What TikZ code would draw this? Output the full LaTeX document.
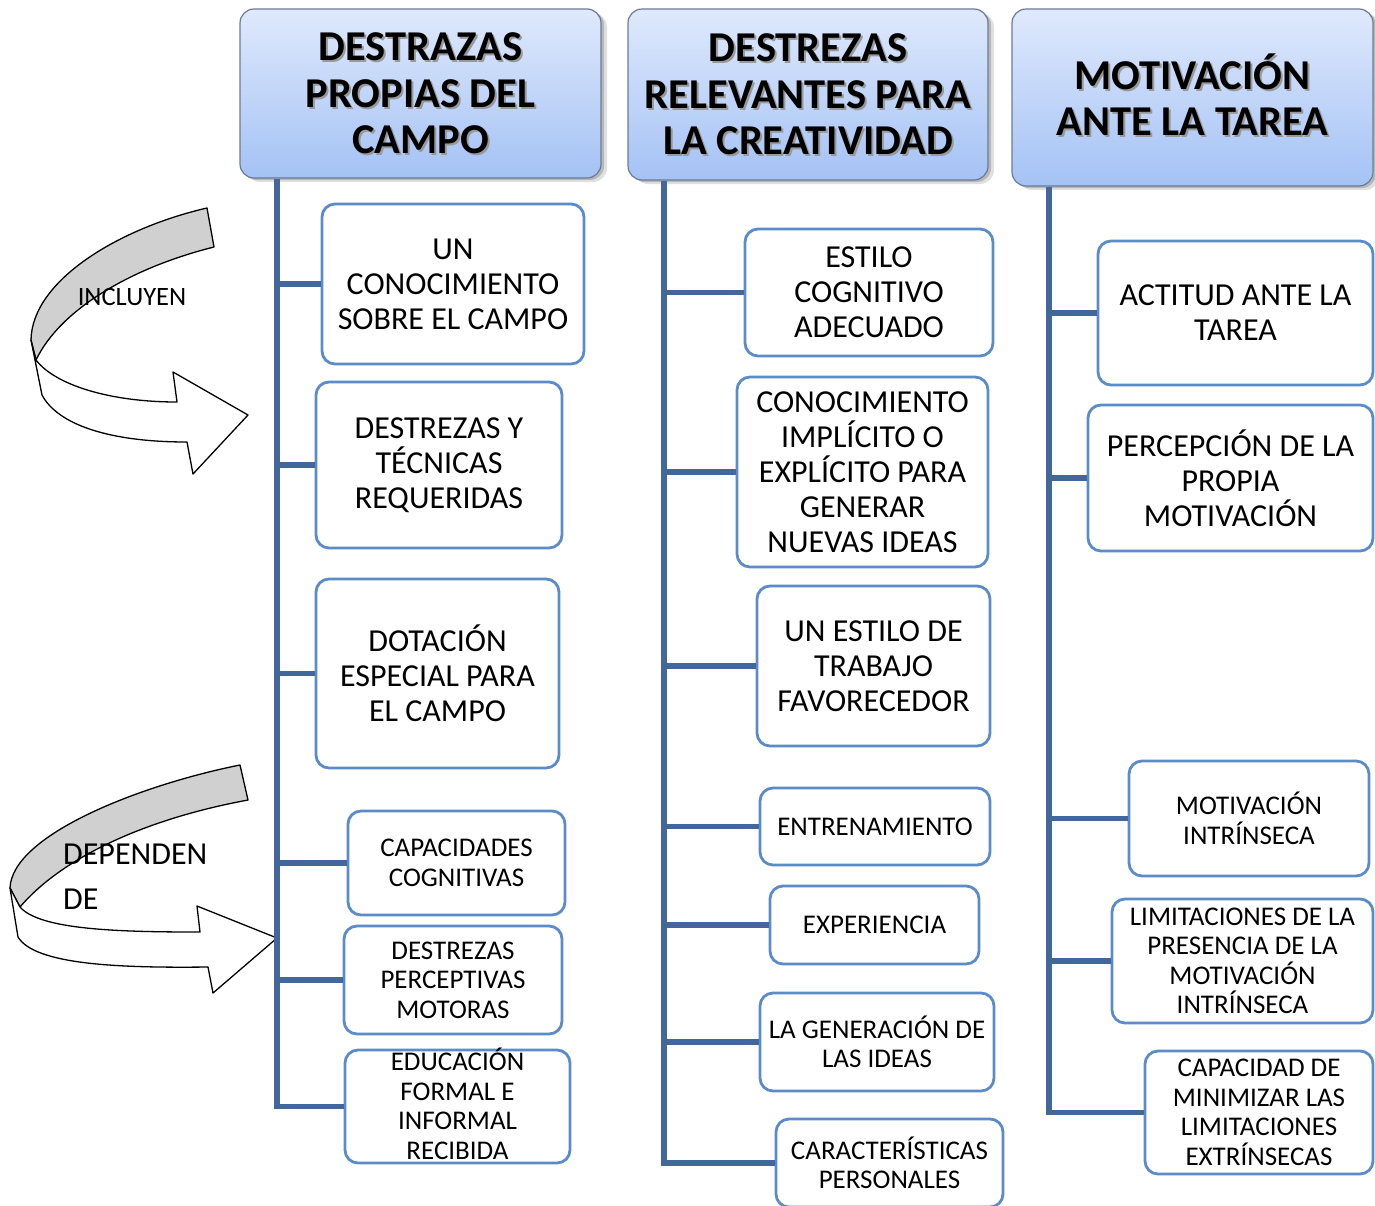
\documentclass[tikz,border=0pt]{standalone}
\usepackage{fontspec}
\setmainfont{Carlito}
\usetikzlibrary{shadows}

\definecolor{headtop}{HTML}{DFE9FC}
\definecolor{headbot}{HTML}{A4C2F5}
\definecolor{headline}{HTML}{6C7B94}
\definecolor{boxline}{HTML}{5B8BC9}
\definecolor{trunkc}{HTML}{41679B}
\definecolor{ribbon}{HTML}{D0D0D0}

\newcommand{\bigtxt}{\fontsize{32}{35}\selectfont}
\newcommand{\smalltxt}{\fontsize{27}{29.5}\selectfont}
\newcommand{\headtxt}{\fontsize{42.5}{46.5}\selectfont\bfseries}

\tikzset{
  head/.style={draw=headline, line width=1.2pt, rounded corners=14pt,
    top color=headtop, bottom color=headbot, inner sep=0pt,
    drop shadow={shadow xshift=3pt, shadow yshift=-2pt, opacity=0.18, fill=black},
    drop shadow={shadow xshift=6pt, shadow yshift=-4pt, opacity=0.12, fill=black}},
  headlabel/.style={align=center, inner sep=0pt, font=\headtxt},
  item/.style={draw=boxline, line width=2.8pt, rounded corners=13pt, fill=white,
    align=center, inner sep=0pt},
  bigitem/.style={item, font=\bigtxt},
  smallitem/.style={item, font=\smalltxt},
  trunk/.style={draw=trunkc, line width=5.5pt},
  ribbonback/.style={draw=black, line width=1.3pt, fill=ribbon, line join=round},
  ribbonfront/.style={draw=black, line width=1.3pt, fill=white, line join=round},
}

\begin{document}
\begin{tikzpicture}[x=1pt, y=-1pt]
\useasboundingbox (0,0) rectangle (1375,1205);
\clip (0,0) rectangle (1375,1205);

% ---- curved arrow "INCLUYEN"
\draw[ribbonback] (207,208) .. controls (120,228) and (32,280) .. (31,340)
  -- (36,360) .. controls (60,310) and (130,268) .. (214,247) -- cycle;
\draw[ribbonfront] (31,340) -- (42,395) .. controls (58,425) and (110,442) .. (187,442)
  -- (193,474) -- (248,415) -- (173,372) -- (177,402)
  .. controls (110,402) and (55,385) .. (36,360) -- cycle;
\node[font=\fontsize{26.5}{30}\selectfont, inner sep=0pt] (incl) at (132,297) {INCLUYEN};

% ---- curved arrow "DEPENDEN DE"
\draw[ribbonback] (240,765) .. controls (140,785) and (12,835) .. (10,888)
  -- (20,907) .. controls (60,860) and (140,820) .. (248,800) -- cycle;
\draw[ribbonfront] (10,888) -- (18,937) .. controls (35,965) and (120,968) .. (208,967)
  -- (213,993) -- (277,938) -- (197,906) -- (200,932)
  .. controls (120,932) and (40,930) .. (20,907) -- cycle;
\node[font=\fontsize{32}{45}\selectfont, align=left, inner sep=0pt, anchor=north west]
  (dep) at (63,844) {DEPENDEN\\DE};

% ---- column headers
\node[head, minimum width=361pt, minimum height=169pt] (h1) at (420.5,93.5) {};
\node[head, minimum width=360pt, minimum height=171pt] (h2) at (808,94.5) {};
\node[head, minimum width=361pt, minimum height=177pt] (h3) at (1192.5,97.5) {};

\foreach \h/\t/\dy in {h1/{DESTRAZAS\\PROPIAS DEL\\CAMPO}/0,
                   h2/{DESTREZAS\\RELEVANTES PARA\\LA CREATIVIDAD}/0,
                   h3/{MOTIVACIÓN\\ANTE LA TAREA}/3} {
  \node[headlabel, text=black!40, xshift=2pt, yshift=-2pt+\dy pt] at (\h) {\t};
  \node[headlabel, yshift=\dy pt] at (\h) {\t};
}

% ---- column 1 items
\node[bigitem, minimum width=262pt, minimum height=160pt] (a1) at (453,284)
  {UN\\CONOCIMIENTO\\SOBRE EL CAMPO};
\node[bigitem, minimum width=246pt, minimum height=166pt] (a2) at (439,465)
  {DESTREZAS Y\\TÉCNICAS\\REQUERIDAS};
\node[bigitem, minimum width=243pt, minimum height=189pt] (a3) at (437.5,673.5)
  {DOTACIÓN\\ESPECIAL PARA\\EL CAMPO};
\node[smallitem, minimum width=217pt, minimum height=104pt] (a4) at (456.5,863)
  {CAPACIDADES\\COGNITIVAS};
\node[smallitem, minimum width=218pt, minimum height=108pt] (a5) at (453,980)
  {DESTREZAS\\PERCEPTIVAS\\MOTORAS};
\node[smallitem, minimum width=225pt, minimum height=113pt] (a6) at (457.5,1106.5) {};
\node[font=\smalltxt, align=center, inner sep=0pt] (a6t) at (457.5,1104)
  {EDUCACIÓN\\FORMAL E\\INFORMAL\\RECIBIDA};

% ---- column 2 items
\node[bigitem, minimum width=248pt, minimum height=127pt] (b1) at (869,292.5)
  {ESTILO\\COGNITIVO\\ADECUADO};
\node[bigitem, minimum width=251pt, minimum height=190pt] (b2) at (862.5,472)
  {CONOCIMIENTO\\IMPLÍCITO O\\EXPLÍCITO PARA\\GENERAR\\NUEVAS IDEAS};
\node[bigitem, minimum width=233pt, minimum height=160pt] (b3) at (873.5,666)
  {UN ESTILO DE\\TRABAJO\\FAVORECEDOR};
\node[smallitem, minimum width=230pt, minimum height=77pt] (b4) at (875,826.5)
  {ENTRENAMIENTO};
\node[smallitem, minimum width=209pt, minimum height=78pt] (b5) at (874.5,925)
  {EXPERIENCIA};
\node[smallitem, minimum width=234pt, minimum height=98pt] (b6) at (877,1042)
  {LA GENERACIÓN DE\\LAS IDEAS};
\node[smallitem, minimum width=227pt, minimum height=88pt] (b7) at (889.5,1163)
  {CARACTERÍSTICAS\\PERSONALES};

% ---- column 3 items
\node[bigitem, minimum width=275pt, minimum height=144pt] (c1) at (1235.5,313)
  {ACTITUD ANTE LA\\TAREA};
\node[bigitem, minimum width=285pt, minimum height=146pt] (c2) at (1230.5,478)
  {PERCEPCIÓN DE LA\\PROPIA\\MOTIVACIÓN};
\node[smallitem, minimum width=240pt, minimum height=115pt] (c3) at (1249,818.5)
  {MOTIVACIÓN\\INTRÍNSECA};
\node[smallitem, minimum width=261pt, minimum height=124pt] (c4) at (1242.5,961)
  {LIMITACIONES DE LA\\PRESENCIA DE LA\\MOTIVACIÓN\\INTRÍNSECA};
\node[smallitem, minimum width=228pt, minimum height=123pt] (c5) at (1259,1112.5)
  {CAPACIDAD DE\\MINIMIZAR LAS\\LIMITACIONES\\EXTRÍNSECAS};

% ---- trunks and branches
\coordinate (t1) at (277,0);
\coordinate (t2) at (664,0);
\coordinate (t3) at (1049,0);

\draw[trunk] (h1.south -| t1) |- (a6.west);
\foreach \n in {a1,a2,a3,a4,a5}
  \draw[trunk] (\n.west -| t1) -- (\n.west);

\draw[trunk] (h2.south -| t2) |- (b7.west);
\foreach \n in {b1,b2,b3,b4,b5,b6}
  \draw[trunk] (\n.west -| t2) -- (\n.west);

\draw[trunk] (h3.south -| t3) |- (c5.west);
\foreach \n in {c1,c2,c3,c4}
  \draw[trunk] (\n.west -| t3) -- (\n.west);
\end{tikzpicture}
\end{document}
